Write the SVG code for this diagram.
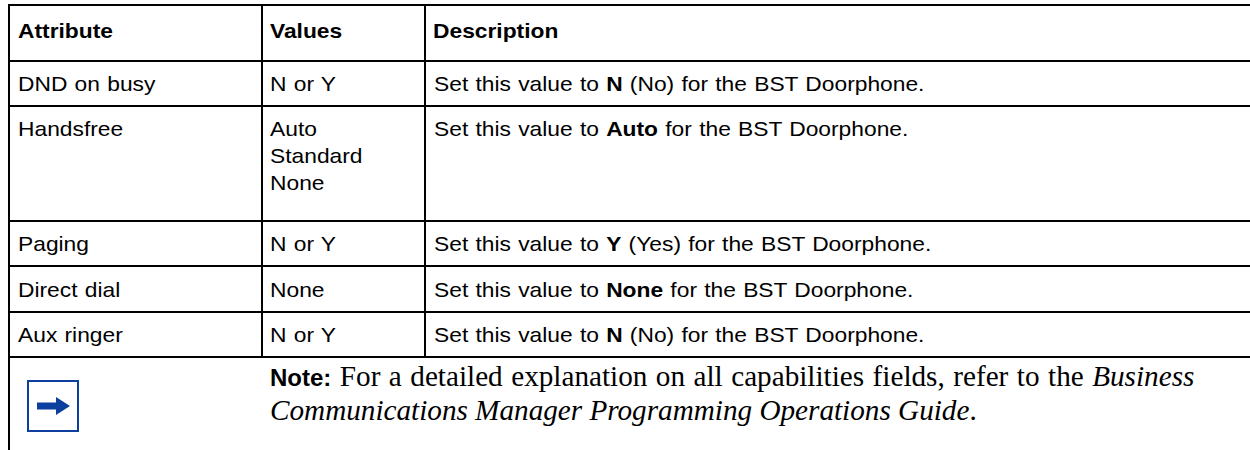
<svg xmlns="http://www.w3.org/2000/svg" width="1250" height="450" viewBox="0 0 1250 450">
<style>
.ln{stroke:#000;stroke-width:2;fill:none}
.t{font-family:"Liberation Sans",Arial,sans-serif;font-size:20px;fill:#000;word-spacing:0.8px}
.b{font-weight:bold}
.n{font-family:"Liberation Serif","Times New Roman",serif;font-size:29.2px;fill:#000}
.nb{font-family:"Liberation Sans",Arial,sans-serif;font-weight:bold;font-size:24px}
.i{font-style:italic}
</style>
<rect width="1250" height="450" fill="#fff"/>
<g id="connectors">
<line class="ln" x1="9" y1="5" x2="1250" y2="5"/>
<line class="ln" x1="9" y1="61" x2="1250" y2="61"/>
<line class="ln" x1="9" y1="106" x2="1250" y2="106"/>
<line class="ln" x1="9" y1="221" x2="1250" y2="221"/>
<line class="ln" x1="9" y1="266" x2="1250" y2="266"/>
<line class="ln" x1="9" y1="312" x2="1250" y2="312"/>
<line class="ln" x1="9" y1="357" x2="1250" y2="357"/>
<line class="ln" x1="9" y1="4" x2="9" y2="450"/>
<line class="ln" x1="262" y1="5" x2="262" y2="357"/>
<line class="ln" x1="425" y1="5" x2="425" y2="357"/>
</g>
<g id="header">
<text class="t b" transform="translate(18,38) scale(1.14,1)">Attribute</text>
<text class="t b" transform="translate(270,38) scale(1.14,1)">Values</text>
<text class="t b" transform="translate(433,38) scale(1.14,1)">Description</text>
</g>
<g id="row-dnd">
<text class="t" transform="translate(18,91) scale(1.14,1)">DND on busy</text>
<text class="t" transform="translate(270,91) scale(1.14,1)">N or Y</text>
<text class="t" transform="translate(434,91) scale(1.14,1)">Set this value to <tspan class="b">N</tspan> (No) for the BST Doorphone.</text>
</g>
<g id="row-handsfree">
<text class="t" transform="translate(18,135.5) scale(1.14,1)">Handsfree</text>
<text class="t" transform="translate(270,135.5) scale(1.14,1)">Auto</text>
<text class="t" transform="translate(270,163) scale(1.14,1)">Standard</text>
<text class="t" transform="translate(270,190) scale(1.14,1)">None</text>
<text class="t" transform="translate(434,135.5) scale(1.14,1)">Set this value to <tspan class="b">Auto</tspan> for the BST Doorphone.</text>
</g>
<g id="row-paging">
<text class="t" transform="translate(18,251) scale(1.14,1)">Paging</text>
<text class="t" transform="translate(270,251) scale(1.14,1)">N or Y</text>
<text class="t" transform="translate(434,251) scale(1.14,1)">Set this value to <tspan class="b">Y</tspan> (Yes) for the BST Doorphone.</text>
</g>
<g id="row-directdial">
<text class="t" transform="translate(18,297) scale(1.14,1)">Direct dial</text>
<text class="t" transform="translate(270,297) scale(1.14,1)">None</text>
<text class="t" transform="translate(434,297) scale(1.14,1)">Set this value to <tspan class="b">None</tspan> for the BST Doorphone.</text>
</g>
<g id="row-auxringer">
<text class="t" transform="translate(18,342) scale(1.14,1)">Aux ringer</text>
<text class="t" transform="translate(270,342) scale(1.14,1)">N or Y</text>
<text class="t" transform="translate(434,342) scale(1.14,1)">Set this value to <tspan class="b">N</tspan> (No) for the BST Doorphone.</text>
</g>
<g id="note-icon">
<rect x="28" y="381" width="50" height="50" fill="#fff" stroke="#0d3f9f" stroke-width="2"/>
<path d="M37 402.5 H56 V397 L70 406 L56 415 V409.5 H37 Z" fill="#0d3f9f"/>
</g>
<g id="note">
<text class="n" x="270" y="386" word-spacing="1.2"><tspan class="nb">Note:</tspan> For a detailed explanation on all capabilities fields, refer to the <tspan class="i">Business</tspan></text>
<text class="n" x="270" y="420"><tspan class="i">Communications Manager Programming Operations Guide</tspan>.</text>
</g>
</svg>
